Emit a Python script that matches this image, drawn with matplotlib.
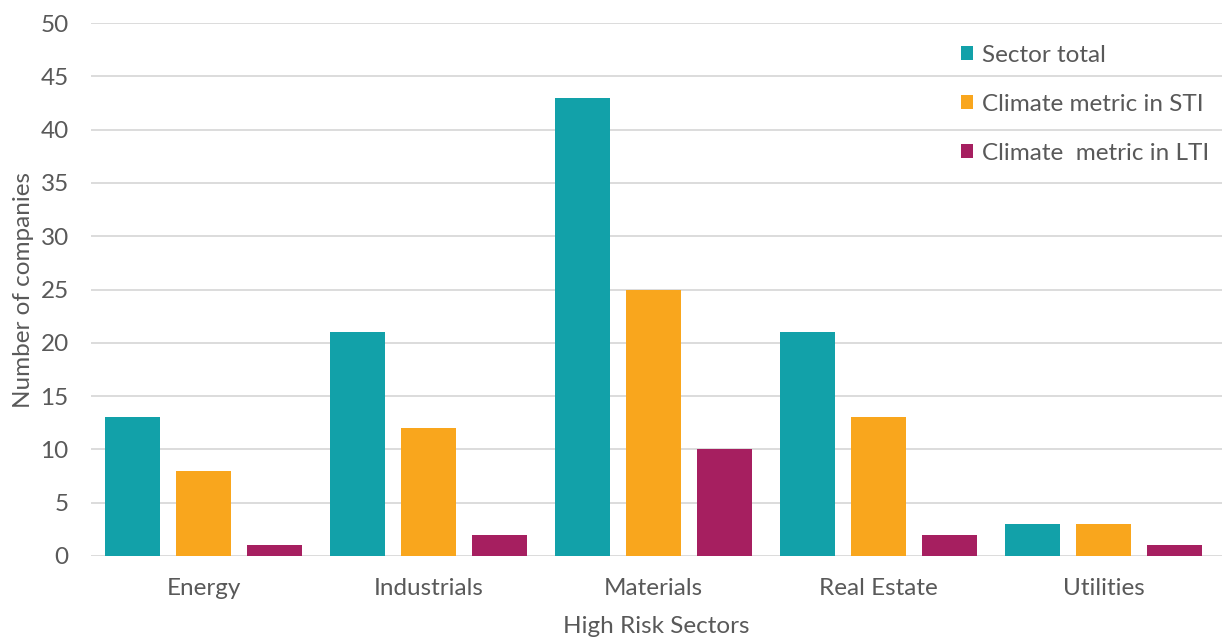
import matplotlib
matplotlib.use("Agg")
import matplotlib.pyplot as plt
import numpy as np

categories = ["Energy", "Industrials", "Materials", "Real Estate", "Utilities"]
series_names = ["Sector total", "Climate metric in STI", "Climate  metric in LTI"]
sector_total = [13, 21, 43, 21, 3]
sti = [8, 12, 25, 13, 3]
lti = [1, 2, 10, 2, 1]
colors = ["#12A1A9", "#F9A61D", "#A61F60"]
yticks = [0, 5, 10, 15, 20, 25, 30, 35, 40, 45, 50]

plt.rcParams['font.family'] = ['Lato', 'DejaVu Sans']
textc = "#595959"

fig = plt.figure(figsize=(12.22, 6.37), dpi=100)
ax = fig.add_axes([91/1222, 1-556/637, (1222-91)/1222, (556-23)/637])

x = np.arange(len(categories))
w = 0.245
step = 0.3155
for i, (vals, c, name) in enumerate(zip([sector_total, sti, lti], colors, series_names)):
    ax.bar(x + (i-1)*step, vals, width=w, color=c, label=name, zorder=3)

ax.set_xlim(-0.5, len(categories)-0.5 + 6/225)
ax.set_ylim(0, 50)
ax.set_yticks(yticks)
ax.set_xticks(x)
ax.set_xticklabels(categories)
ax.yaxis.grid(True, color="#d9d9d9", linewidth=1.3, zorder=0)
for s in ax.spines.values():
    s.set_visible(False)
ax.tick_params(axis='both', length=0, labelsize=17.5, colors=textc)
ax.tick_params(axis='x', pad=16)
ax.tick_params(axis='y', pad=16)
ax.set_xlabel("High Risk Sectors", fontsize=17.5, color=textc, labelpad=12)
ax.set_ylabel("Number of companies", fontsize=17.5, color=textc, labelpad=5)

leg = ax.legend(loc='upper right', bbox_to_anchor=(1.008, 1.0), frameon=False,
                fontsize=17.5, handlelength=0.5, handleheight=0.5, handletextpad=0.35,
                labelspacing=1.15, labelcolor=textc)

fig.savefig("out.png", dpi=100)
